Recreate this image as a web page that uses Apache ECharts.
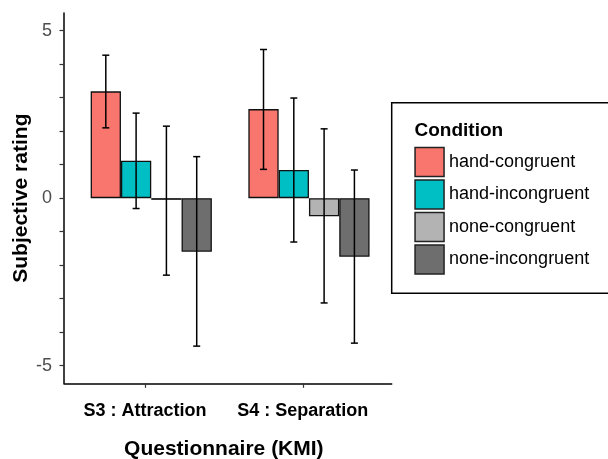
<!DOCTYPE html>
<html>
<head>
<meta charset="utf-8">
<script src="https://cdn.jsdelivr.net/npm/echarts@6/dist/echarts.min.js"></script>
<style>
html,body{margin:0;padding:0;background:#fff;}
#chart{width:608px;height:459px;}
</style>
</head>
<body>
<div id="chart"></div>
<script>
// ---- data ----
const categories = ['S3 : Attraction', 'S4 : Separation'];
const conditions = ['hand-congruent', 'hand-incongruent', 'none-congruent', 'none-incongruent'];
const handCongruent   = [3.19, 2.66];
const handIncongruent = [1.12, 0.84];
const noneCongruent   = [-0.05, -0.54];
const noneIncongruent = [-1.60, -1.75];
const handCongruentLow    = [2.10, 0.86];
const handCongruentHigh   = [4.27, 4.44];
const handIncongruentLow  = [-0.31, -1.31];
const handIncongruentHigh = [2.54, 2.99];
const noneCongruentLow    = [-2.30, -3.13];
const noneCongruentHigh   = [2.15, 2.07];
const noneIncongruentLow  = [-4.42, -4.33];
const noneIncongruentHigh = [1.24, 0.84];
const yTickValues  = [-5, -4, -3, -2, -1, 0, 1, 2, 3, 4, 5];
const yLabelValues = [-5, 0, 5];

// ---- styles ----
const FONT = "'Liberation Sans', Arial, sans-serif";
const colors = ['#F8766D', '#00BFC4', '#B3B3B3', '#6E6E6E'];
const BAR_W = 30.3;
const GRID_L = 64, GRID_T = 13, GRID_W = 327.7, GRID_H = 370.3;
const X_MIN = 0.486, X_MAX = 2.564;
const BAR_SHIFT_PX = 6.2;
const shiftUnits = BAR_SHIFT_PX * (X_MAX - X_MIN) / GRID_W;

const means = [handCongruent, handIncongruent, noneCongruent, noneIncongruent];
const lows  = [handCongruentLow, handIncongruentLow, noneCongruentLow, noneIncongruentLow];
const highs = [handCongruentHigh, handIncongruentHigh, noneCongruentHigh, noneIncongruentHigh];

const series = [];
conditions.forEach((name, k) => {
  series.push({
    name: name,
    type: 'bar',
    xAxisIndex: 1,
    barWidth: BAR_W,
    barGap: '0%',
    data: means[k].map((v, i) => [i + 1, v]),
    itemStyle: { color: colors[k], borderColor: '#111', borderWidth: 1.3 },
    emphasis: { disabled: true },
    z: 2
  });
});
conditions.forEach((name, k) => {
  const off = (k - 1.5) * BAR_W;
  series.push({
    name: 'err-' + name,
    type: 'custom',
    xAxisIndex: 1,
    encode: { x: 0, y: [1, 2] },
    data: lows[k].map((lo, i) => [i + 1, lo, highs[k][i]]),
    z: 5,
    silent: true,
    renderItem: function (params, api) {
      const x = api.value(0);
      const pHi = api.coord([x, api.value(2)]);
      const pLo = api.coord([x, api.value(1)]);
      const cx = pHi[0] + off;
      const capHalf = 3.5;
      const st = { stroke: '#000', lineWidth: 1.5 };
      return {
        type: 'group',
        children: [
          { type: 'line', shape: { x1: cx, y1: pHi[1], x2: cx, y2: pLo[1] }, style: st },
          { type: 'line', shape: { x1: cx - capHalf, y1: pHi[1], x2: cx + capHalf, y2: pHi[1] }, style: st },
          { type: 'line', shape: { x1: cx - capHalf, y1: pLo[1], x2: cx + capHalf, y2: pLo[1] }, style: st }
        ]
      };
    }
  });
});

const chart = echarts.init(document.getElementById('chart'), null, { renderer: 'canvas' });
chart.setOption({
  animation: false,
  backgroundColor: '#fff',
  textStyle: { fontFamily: FONT },
  grid: { left: GRID_L, top: GRID_T, width: GRID_W, height: GRID_H, containLabel: false, outerBoundsMode: 'none' },
  xAxis: [
    {
      type: 'value',
      min: X_MIN, max: X_MAX,
      axisLine: { show: true, onZero: false, lineStyle: { color: '#000', width: 1.5 } },
      axisTick: { show: true, length: 4.5, customValues: [1, 2], lineStyle: { color: '#333', width: 1.2 } },
      axisLabel: {
        customValues: [1, 2],
        formatter: v => categories[Math.round(v) - 1],
        margin: 19,
        color: '#000', fontFamily: FONT, fontWeight: 'bold', fontSize: 18
      },
      splitLine: { show: false },
      name: 'Questionnaire (KMI)',
      nameLocation: 'middle',
      nameMoveOverlap: false,
      nameGap: 55.5,
      nameTextStyle: { color: '#000', fontFamily: FONT, fontWeight: 'bold', fontSize: 21, padding: [0, 8, 0, 0] }
    },
    {
      type: 'value',
      min: X_MIN - shiftUnits, max: X_MAX - shiftUnits,
      show: false,
      splitLine: { show: false }
    }
  ],
  yAxis: {
    type: 'value',
    min: -5.53, max: 5.53,
    axisLine: { show: true, onZero: false, lineStyle: { color: '#000', width: 1.5 } },
    axisTick: { show: true, length: 4.5, customValues: yTickValues, lineStyle: { color: '#333', width: 1.2 } },
    axisLabel: { customValues: yLabelValues, margin: 12, color: '#4D4D4D', fontFamily: FONT, fontSize: 18 },
    splitLine: { show: false },
    name: 'Subjective rating',
    nameLocation: 'middle',
    nameMoveOverlap: false,
    nameRotate: 90,
    nameGap: 32,
    nameTextStyle: { color: '#000', fontFamily: FONT, fontWeight: 'bold', fontSize: 21 }
  },
  legend: {
    data: conditions,
    orient: 'vertical',
    left: 414.3,
    top: 146.7,
    padding: 0,
    itemWidth: 29,
    itemHeight: 29,
    itemGap: 2,
    icon: 'rect',
    selectedMode: false,
    itemStyle: { borderColor: '#222', borderWidth: 1.5 },
    textStyle: { color: '#000', fontFamily: FONT, fontSize: 18, padding: [0, 0, 0, 0] }
  },
  graphic: [
    {
      type: 'rect',
      shape: { x: 391.7, y: 102.7, width: 240, height: 190.6 },
      style: { fill: 'none', stroke: '#000', lineWidth: 1.5 },
      silent: true
    },
    {
      type: 'text',
      x: 414.5, y: 130.5,
      style: { text: 'Condition', font: 'bold 19px ' + FONT, fill: '#000', verticalAlign: 'middle', align: 'left' },
      silent: true
    }
  ],
  series: series
});
</script>
</body>
</html>
